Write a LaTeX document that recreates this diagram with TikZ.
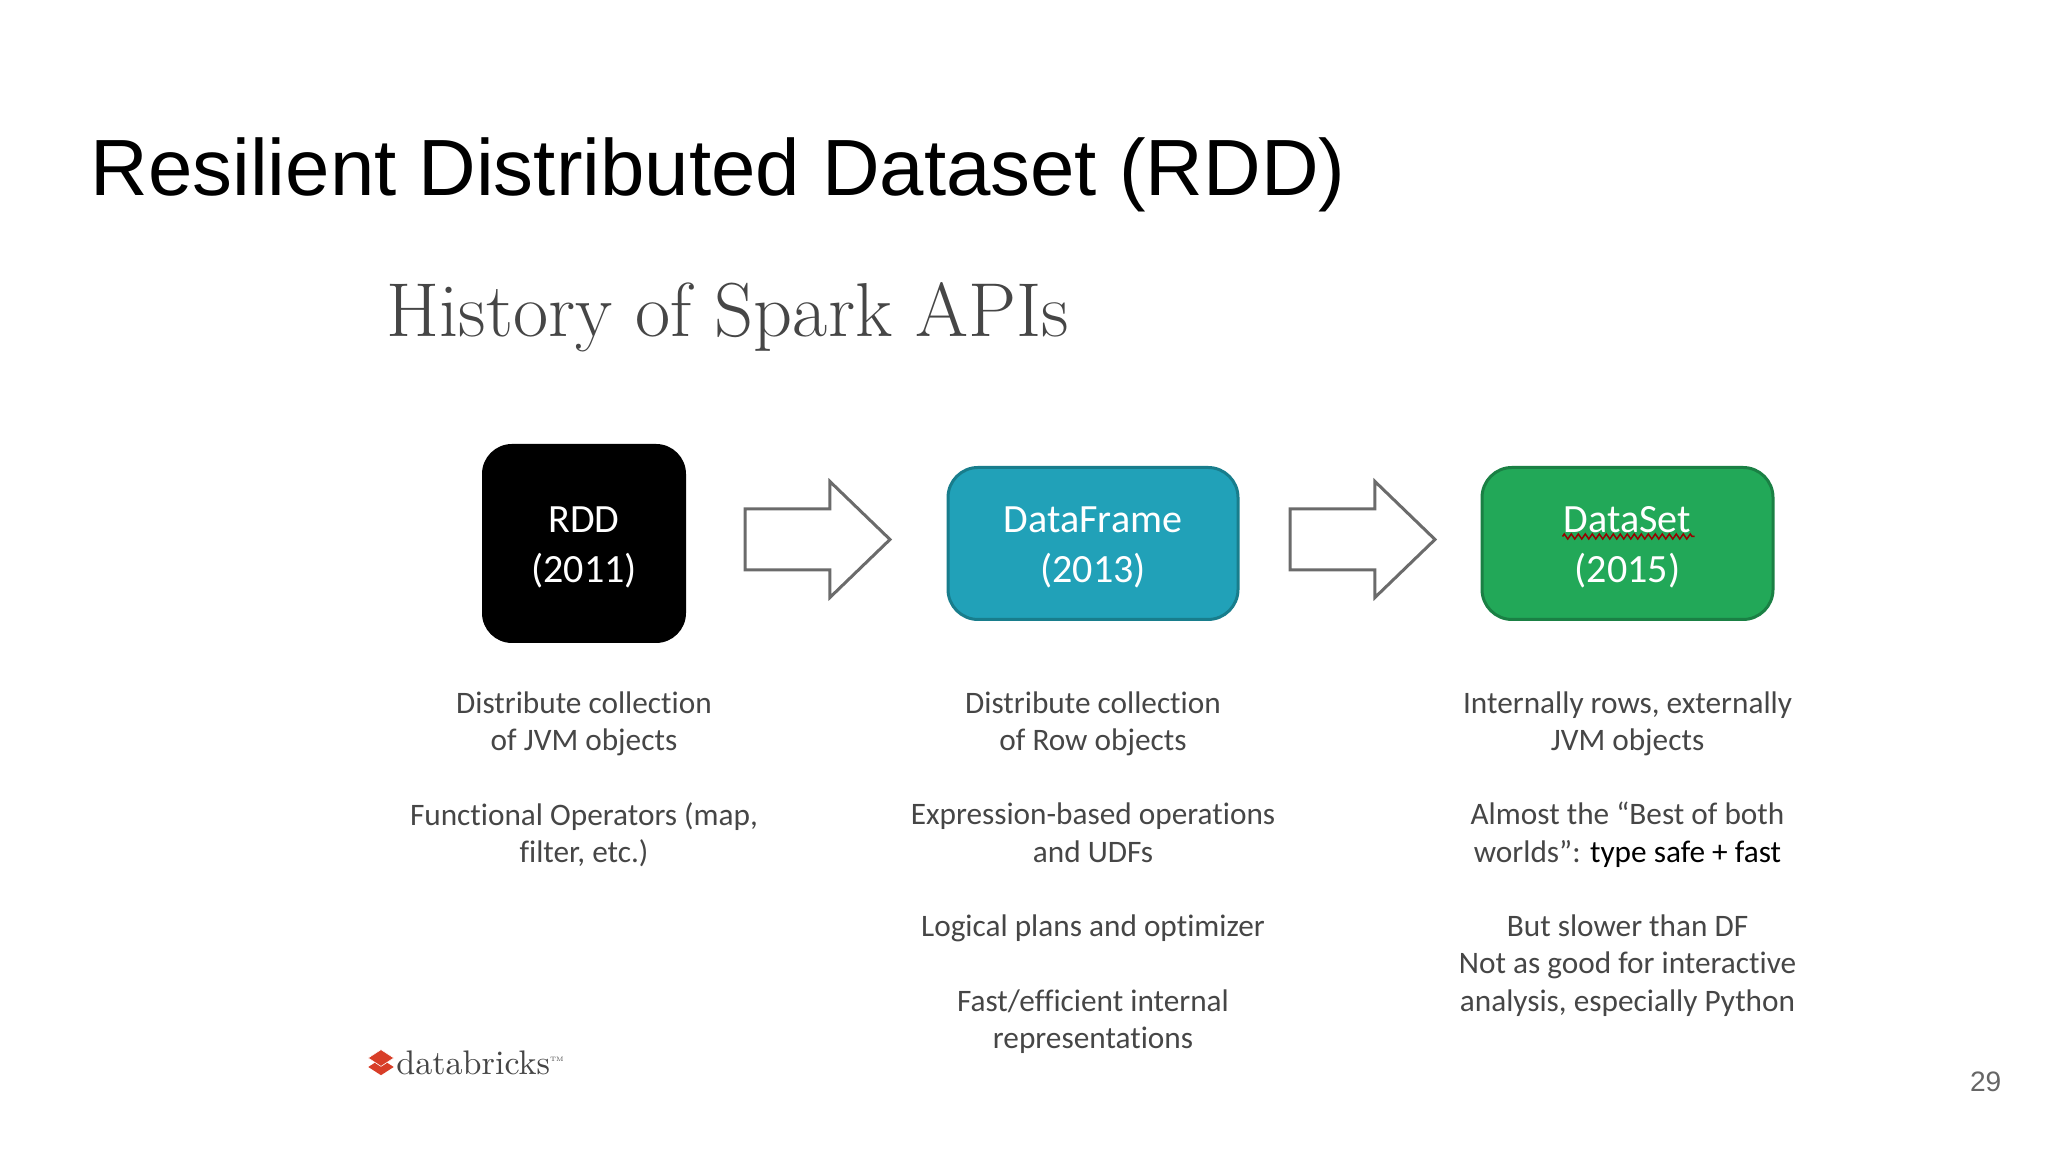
\documentclass[tikz,border=0pt]{standalone}
\usepackage{fontspec}
\newfontfamily\arialfont{Liberation Sans}
\newfontfamily\bodyfont[Ligatures=NoCommon]{Carlito}
\definecolor{mydfblue}{RGB}{33,161,184}
\definecolor{mydfedge}{RGB}{24,125,140}
\definecolor{mydsgreen}{RGB}{34,168,88}
\definecolor{mydsedge}{RGB}{26,128,68}
\definecolor{myarrowgray}{RGB}{107,107,107}
\definecolor{mytextgray}{RGB}{70,70,70}
\definecolor{mylogored}{RGB}{216,62,40}
\newcommand{\apilabel}[2]{\rule{0pt}{9.5pt}#1\\(#2)}
\usetikzlibrary{calc,shapes.arrows,shapes.geometric,decorations.pathmorphing,positioning}
\tikzstyle{apibox}=[rounded corners=0.3cm,align=center,text=white,outer sep=0pt,inner sep=0pt,font=\bodyfont\fontsize{11.4}{14.2}\selectfont]
\tikzstyle{blockarrow}=[draw=myarrowgray,fill=white,line width=0.03cm,single arrow,minimum height=1.45cm,inner xsep=0pt,inner ysep=0.29cm,single arrow head extend=0.275cm,single arrow tip angle=88,outer sep=0pt]
\tikzstyle{notes}=[align=center,text=mytextgray,inner sep=0pt,outer sep=0pt,font=\bodyfont\fontsize{8.9}{10.6}\selectfont]
\begin{document}
\begin{tikzpicture}
\useasboundingbox (0,0) rectangle (20.48,11.52);
\node [anchor=base west,inner sep=0pt,font=\arialfont\fontsize{22.7}{28}\selectfont] (title) at (0.90,9.565) {Resilient Distributed Dataset (RDD)};
\node [anchor=base west,inner sep=0pt,text=mytextgray,font=\fontsize{21.75}{26}\selectfont] (history) at (3.86,8.15) {History of Spark APIs};

\node [apibox,fill=black,minimum width=2.04cm,minimum height=1.99cm] (rdd) at (5.84,6.085) {\apilabel{RDD}{2011}};
\node [blockarrow,right=0.59cm of rdd,yshift=0.04cm] (arrow1) {};
\node [apibox,fill=mydfblue,draw=mydfedge,line width=0.03cm,minimum width=2.90cm,minimum height=1.52cm,right=0.58cm of arrow1,yshift=-0.04cm] (df) {\apilabel{DataFrame}{2013}};
\node [blockarrow,right=0.52cm of df,yshift=0.04cm] (arrow2) {};
\node [apibox,fill=mydsgreen,draw=mydsedge,line width=0.03cm,minimum width=2.91cm,minimum height=1.52cm,right=0.47cm of arrow2,yshift=-0.04cm] (ds) {\apilabel{DataSet}{2015}};
\draw [red!60!black,line width=0.015cm,decorate,decoration={zigzag,segment length=0.07cm,amplitude=0.025cm}] ($(ds.center)+(-0.65,0.07)$) -- ($(ds.center)+(0.67,0.07)$);

\node [notes,below=0.49cm of rdd] (rddnotes) {Distribute collection\\of JVM objects\\[10.6pt]Functional Operators (map,\\filter, etc.)};
\node [notes,below=0.72cm of df] (dfnotes) {Distribute collection\\of Row objects\\[10.6pt]Expression-based operations\\and UDFs\\[10.6pt]Logical plans and optimizer\\[10.6pt]Fast/efficient internal\\representations};
\node [notes,below=0.72cm of ds] (dsnotes) {Internally rows, externally\\JVM objects\\[10.6pt]Almost the “Best of both\\worlds”: \textcolor{black}{type safe + fast}\\[10.6pt]But slower than DF\\Not as good for interactive\\analysis, especially Python};

\node [diamond,fill=mylogored,minimum width=0.26cm,minimum height=0.17cm,inner sep=0pt] (logobottom) at (3.81,0.85) {};
\node [diamond,fill=mylogored,draw=white,line width=0.006cm,minimum width=0.26cm,minimum height=0.17cm,inner sep=0pt,above=-0.09cm of logobottom] (logotop) {};
\node [right=0.01cm of logobottom.east,yshift=0.04cm,inner sep=0pt,text=mytextgray,font=\fontsize{9.7}{11}\selectfont] (logotext) {databricks\raisebox{0.9ex}{\fontsize{1.8}{2}\selectfont TM}};
\node [anchor=base east,inner sep=0pt,text=black!60,font=\arialfont\fontsize{8}{10}\selectfont] (pagenum) at (20.02,0.60) {29};
\end{tikzpicture}
\end{document}
